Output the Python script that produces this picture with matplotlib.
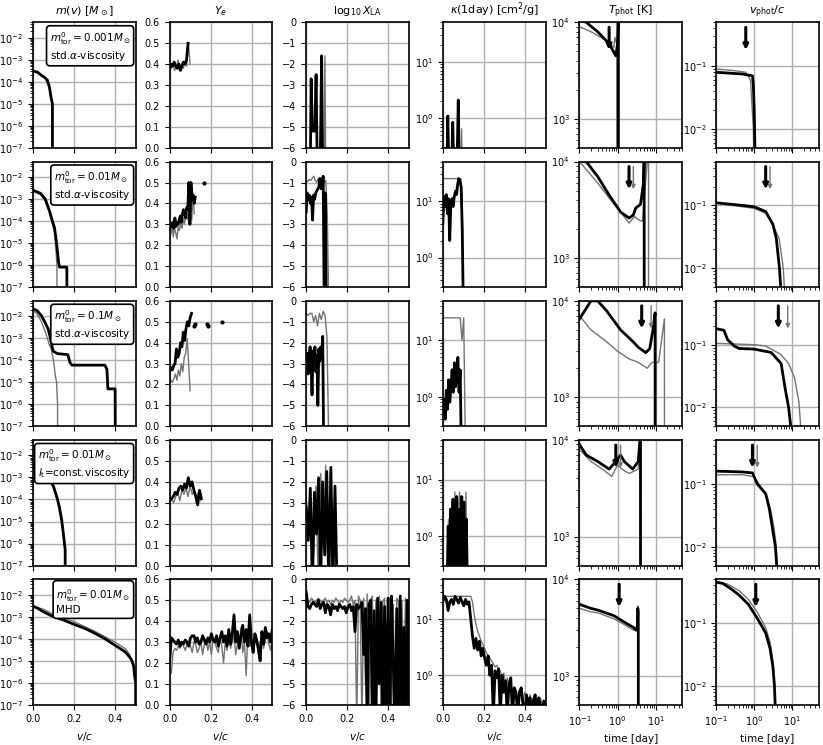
import numpy as np
import matplotlib
matplotlib.use("Agg")
import matplotlib.pyplot as plt

# ---------------- data (black = model, gray = comparison) ----------------
LOW = 1e-12   # floor for log panels (drop to bottom)
LX = -7.0     # floor for log10 X_LA panels

row_labels = [
    "$m^0_{\\rm tor}=0.001M_\\odot$\nstd.$\\alpha$-viscosity",
    "$m^0_{\\rm tor}=0.01M_\\odot$\nstd.$\\alpha$-viscosity",
    "$m^0_{\\rm tor}=0.1M_\\odot$\nstd.$\\alpha$-viscosity",
    "$m^0_{\\rm tor}=0.01M_\\odot$\n$l_{\\rm t}$=const.viscosity",
    "$m^0_{\\rm tor}=0.01M_\\odot$\nMHD",
]

# m(v)
m_v_k = [[0, 0.02, 0.04, 0.06, 0.07, 0.08, 0.088, 0.093, 0.095, 0.095],
         [0, 0.02, 0.037, 0.06, 0.08, 0.095, 0.105, 0.115, 0.125, 0.13, 0.165, 0.168],
         [0, 0.02, 0.04, 0.06, 0.075, 0.085, 0.095, 0.1, 0.12, 0.17, 0.18, 0.19, 0.35,
          0.36, 0.365, 0.4, 0.403],
         [0, 0.01, 0.03, 0.05, 0.07, 0.09, 0.1, 0.11, 0.12, 0.13, 0.14, 0.15, 0.157, 0.157],
         [0, 0.02, 0.05, 0.1, 0.15, 0.2, 0.25, 0.3, 0.35, 0.4, 0.45, 0.47, 0.48, 0.49, 0.495, 0.5, 0.5]]
m_y_k = [[3e-4, 2.8e-4, 2e-4, 1.5e-4, 1.2e-4, 6e-5, 2e-5, 1.2e-5, 1e-5, LOW],
         [2.5e-3, 2.1e-3, 1.8e-3, 1e-3, 3e-4, 1e-4, 5e-5, 1e-5, 1.3e-6, 8e-7, 8e-7, LOW],
         [2.2e-2, 1.8e-2, 1.1e-2, 5e-3, 2.5e-3, 1e-3, 3.5e-4, 2.5e-4, 2e-4, 1.8e-4,
          8e-5, 6e-5, 6e-5, 4e-5, 5e-6, 5e-6, LOW],
         [4e-3, 2.5e-3, 1.7e-3, 1.3e-3, 1e-3, 6e-4, 4e-4, 2e-4, 1e-4, 4e-5, 1.2e-5, 2e-6, 5e-7, LOW],
         [3e-3, 2.5e-3, 1.7e-3, 1e-3, 7e-4, 4.5e-4, 3e-4, 1.8e-4, 1e-4, 5e-5, 2.5e-5, 1.5e-5, 1.1e-5, 6e-6, 2e-6, 1e-6, LOW]]
m_v_g = [[0, 0.02, 0.04, 0.06, 0.08, 0.09, 0.093, 0.093],
         [0, 0.02, 0.04, 0.06, 0.08, 0.095, 0.105, 0.112, 0.117, 0.117],
         [0, 0.02, 0.04, 0.06, 0.08, 0.09, 0.1, 0.109, 0.115, 0.12, 0.12],
         [0, 0.03, 0.07, 0.1, 0.12, 0.14, 0.157, 0.157],
         [0, 0.05, 0.1, 0.2, 0.3, 0.4, 0.45, 0.47, 0.49, 0.5, 0.5]]
m_y_g = [[3e-4, 2.8e-4, 2e-4, 1.4e-4, 5e-5, 1.5e-5, 1e-5, LOW],
         [2.3e-3, 1.9e-3, 1.5e-3, 8e-4, 2.5e-4, 7e-5, 3e-5, 5e-6, 1e-6, LOW],
         [1.8e-2, 1.3e-2, 6e-3, 2e-3, 5e-4, 3e-4, 1e-4, 2e-5, 1e-5, 1e-6, LOW],
         [4e-3, 1.6e-3, 9e-4, 3.5e-4, 8e-5, 8e-6, 5e-7, LOW],
         [3e-3, 2.2e-3, 1.3e-3, 6e-4, 2.2e-4, 7e-5, 3.5e-5, 2e-5, 5e-6, 1e-6, LOW]]

# Y_e
ye_k = [[0.38, 0.40, 0.39, 0.41, 0.39, 0.38, 0.40, 0.37, 0.39, 0.41, 0.40, 0.42, 0.50],
        [0.28, 0.30, 0.29, 0.31, 0.28, 0.33, 0.29, 0.31, 0.30, 0.32, 0.34, 0.31, 0.35,
         0.37, 0.36, 0.33, 0.38, 0.37, 0.50, 0.30, 0.50, 0.42, 0.44, 0.40, 0.43],
        [0.26, 0.28, 0.27, 0.29, 0.30, 0.37, 0.33, 0.35, 0.40, 0.38, 0.45, 0.41, 0.47,
         0.50, 0.48, 0.52, 0.54],
        [0.31, 0.32, 0.33, 0.35, 0.34, 0.37, 0.38, 0.36, 0.39, 0.37, 0.42, 0.38, 0.40,
         0.36, 0.33, 0.29, 0.36, 0.32],
        [0.20, 0.32, 0.31, 0.30, 0.29, 0.31, 0.28, 0.30, 0.29, 0.31, 0.30, 0.28, 0.32,
         0.33, 0.33, 0.30, 0.32, 0.29, 0.30, 0.33, 0.31, 0.29, 0.32, 0.30, 0.34, 0.31,
         0.30, 0.33, 0.28, 0.32, 0.35, 0.30, 0.33, 0.28, 0.36, 0.29, 0.34, 0.43, 0.30,
         0.35, 0.27, 0.33, 0.38, 0.30, 0.36, 0.28, 0.43, 0.30, 0.25, 0.34, 0.31, 0.27,
         0.21, 0.35, 0.29, 0.37, 0.32, 0.34, 0.30, 0.36]]
ye_k_end = [0.09, 0.125, 0.107, 0.155, 0.5]
ye_g = [[0.41, 0.38, 0.40, 0.37, 0.39, 0.42, 0.37, 0.40, 0.38, 0.41, 0.39, 0.50, 0.40],
        [0.27, 0.25, 0.30, 0.24, 0.28, 0.26, 0.23, 0.29, 0.27, 0.31, 0.28, 0.33, 0.30,
         0.34, 0.35, 0.32, 0.36, 0.50, 0.32, 0.45, 0.35],
        [0.20, 0.22, 0.21, 0.23, 0.25, 0.22, 0.27, 0.24, 0.30, 0.26, 0.33, 0.35, 0.42,
         0.30, 0.17],
        [0.30, 0.32, 0.30, 0.33, 0.35, 0.31, 0.36, 0.34, 0.37, 0.33, 0.38, 0.34, 0.36,
         0.32, 0.35, 0.31],
        [0.20, 0.15, 0.25, 0.27, 0.26, 0.28, 0.27, 0.30, 0.28, 0.26, 0.29, 0.30, 0.28,
         0.25, 0.30, 0.29, 0.25, 0.27, 0.30, 0.24, 0.29, 0.31, 0.26, 0.30, 0.24, 0.31,
         0.30, 0.27, 0.25, 0.32, 0.28, 0.20, 0.30, 0.26, 0.35, 0.27, 0.30, 0.33, 0.24,
         0.29, 0.28, 0.37, 0.25, 0.30, 0.14, 0.36, 0.28, 0.30, 0.26, 0.33, 0.29, 0.24,
         0.30, 0.33, 0.27, 0.31, 0.35, 0.29, 0.26, 0.32]]
ye_g_end = [0.10, 0.12, 0.10, 0.15, 0.5]
ye_dots_v = [[], [0.168], [0.12, 0.125, 0.18, 0.185, 0.257], [], []]
ye_dots_y = [[], [0.50], [0.48, 0.49, 0.49, 0.48, 0.50], [], []]

# log10 X_LA
xla_v_k = [[0.02, 0.024, 0.03, 0.036, 0.042, 0.048, 0.054, 0.068, 0.075, 0.08],
           None, None, None, None]
xla_k = [[LX, -2.7, -5.2, -5.2, -5.2, -2.5, LX, LX, -1.6, LX],
         [-2.4, -1.5, -1.8, -1.6, -2.0, -1.7, -2.8, -1.6, -1.8, -1.5, -1.4, -1.3,
          -1.2, -0.8, -1.3, -1.2, -0.7, LX, -1.5, LX],
         [-3.2, -2.5, -3.5, -2.7, -2.2, -3.0, -4.5, -2.4, -2.8, -2.2, -3.4, -2.6,
          -5.0, -2.3, -2.9, -2.2, -2.8, -1.7, LX],
         [-3.2, -4.8, -2.3, LX, -2.5, -4.5, -1.8, LX, -2.0, -5.5, -1.5, LX, -1.3,
          LX, -2.2, LX],
         [-0.6, -1.3, -1.4, -1.2, -1.1, -1.2, -1.3, -1.0, -1.4, -1.2, -1.1, -1.6, -1.2,
          -1.3, -1.7, -1.2, -1.4, -1.3, -1.5, -1.2, -1.3, -1.4, -1.3, -1.6, -1.3, -1.2,
          -1.5, -1.3, -2.5, -1.2, -1.4, -1.3, -1.1, -3.6, -1.4, LX, -1.2, -1.0, LX,
          -1.5, LX, -0.9, -5.0, -1.1, LX, -1.3, LX, -0.9, LX, -0.8, -4.0, LX, -1.4,
          LX, -0.8, LX, -2.3, LX, -1.0, LX]]
xla_k_end = [None, 0.098, 0.085, 0.15, 0.5]
xla_v_g = [[0.087, 0.091, 0.095], None, None, None, None]
xla_g = [[LX, -1.6, LX],
         [-0.9, -0.95, -0.85, -0.9, -0.8, -0.7, -0.9, -1.0, -0.8, -1.2, -0.9, -0.8,
          -1.0, -0.9, -2.6, LX],
         [-0.6, -0.7, -0.6, -0.6, -1.0, -0.7, -1.2, -0.6, -0.9, -0.5, -0.7, -1.7, LX],
         [-2.8, -4.2, -2.9, -5.6, -2.2, LX, -1.6, -5.2, -1.2, LX, -1.5, LX],
         [-0.8, -1.0, -1.1, -0.9, -1.0, -1.1, -1.0, -0.9, -1.0, -1.1, -1.0, -0.9, -1.1,
          -1.0, -1.2, -1.0, -1.1, -0.9, -1.0, -1.2, -1.0, -1.1, -0.9, -1.0, -1.1, -1.0,
          -0.8, -1.2, -1.0, LX, -0.8, -1.0, LX, -0.9, -5.0, -0.7, LX, -1.0, -0.8, LX,
          -1.0, -3.5, -0.8, LX, -1.1, -0.9, LX, -1.0, -0.9, LX, -1.2, LX, -0.9, -1.1,
          LX, -1.0, -5.0, -0.9, LX, -1.0]]
xla_g_end = [None, 0.11, 0.11, 0.13, 0.5]

# kappa(1 day)
kap_v_k = [[0.02, 0.024, 0.03, 0.036, 0.042, 0.048, 0.054, 0.068, 0.075, 0.08],
           None, None, [0.02, 0.12], None]
kap_k = [[0.1, 1.1, 0.1, 0.1, 0.1, 0.85, 0.1, 0.1, 2.1, 0.1],
         [4, 12, 8, 13, 6, 11, 2, 9, 11, 8, 12, 15, 13, 20, 25, 22, 18, 3, 0.1],
         [0.5, 0.9, 0.4, 1.3, 0.6, 2.0, 0.8, 1.5, 3.0, 1.2, 4.0, 1.5, 2.5, 5.0, 1.2,
          3.0, 0.1],
         [0.1, 1.5, 0.1, 3.0, 0.2, 4.5, 0.1, 2.0, 5.0, 0.1, 3.0, 0.1, 5.0, 0.2, 4.0,
          0.1, 2.0, 0.1],
         [20, 25, 22, 14, 20, 22, 18, 25, 22, 19, 24, 20, 17, 22, 18, 20, 10, 5, 3,
          4.5, 2.8, 4, 2.2, 3, 2, 1.5, 2.2, 1.0, 1.5, 0.2, 1.2, 0.9, 1.3, 0.2, 1.0,
          0.5, 0.8, 0.2, 0.7, 0.9, 0.2, 0.6, 0.5, 0.2, 0.5, 0.6, 0.3, 0.2, 0.45, 0.3,
          0.4, 0.2, 0.35, 0.45, 0.2, 0.4, 0.3, 0.2, 0.35, 0.2]]
kap_k_end = [None, 0.1, 0.09, None, 0.5]
kap_v_g = [[0.087, 0.091, 0.095], None, None, [0.02, 0.12], None]
kap_g = [[0.1, 0.65, 0.1],
         [25, 25, 25, 25, 25, 25, 25, 25, 25, 25, 25, 25, 25, 25, 22, 25, 12, 0.1],
         [25, 25, 25, 25, 25, 25, 25, 25, 25, 25, 25, 10, 25, 0.1],
         [0.1, 2.0, 0.1, 4.0, 0.1, 6.0, 0.2, 3.0, 6.0, 0.1, 5.0, 0.1, 6.0, 0.1],
         [25, 25, 25, 25, 25, 25, 25, 25, 25, 25, 25, 25, 25, 25, 25, 25, 25, 20, 12,
          8, 6, 5, 4, 3.5, 3, 2.5, 2.2, 2, 1.8, 1.6, 1.4, 1.5, 1.3, 1.2, 0.8, 1.1,
          0.6, 0.9, 0.5, 0.7, 0.45, 0.6, 0.5, 0.3, 0.55, 0.45, 0.35, 0.5, 0.4, 0.3,
          0.45, 0.35, 0.4, 0.3, 0.35, 0.3, 0.4, 0.3, 0.35, 0.3]]
kap_g_end = [None, 0.1, 0.11, None, 0.5]

# T_phot vs time [day]
T_t_k = [[0.15, 0.3, 0.6, 0.9, 1.0, 1.05, 1.06],
         [0.15, 0.3, 0.6, 1.2, 2.0, 2.6, 3.0, 4.0, 4.8, 5.0, 5.1],
         [0.1, 0.14, 0.2, 0.3, 0.5, 1.2, 2.5, 3.5, 5.5, 7.0, 8.5, 9.7, 9.8],
         [0.1, 0.15, 0.3, 0.6, 0.9, 1.2, 1.5, 2.5, 3.5, 4.0, 4.1],
         [0.1, 0.2, 0.3, 0.8, 1.5, 2.5, 3.1, 3.3, 3.4, 3.5, 3.6]]
T_k = [[1.0e4, 8e3, 6e3, 4.5e3, 6e3, 2e4, LOW],
       [1.0e4, 7e3, 4.5e3, 3.0e3, 2.6e3, 2.8e3, 3.3e3, 3.6e3, 6e3, 1.2e4, LOW],
       [6.5e3, 8e3, 1.0e4, 1.0e4, 8e3, 5e3, 3.8e3, 3.3e3, 2.9e3, 3.2e3, 5e3, 7.5e3, LOW],
       [9e3, 7e3, 6e3, 5e3, 6e3, 7e3, 6e3, 5e3, 6e3, 1.2e4, LOW],
       [5.5e3, 5e3, 4.8e3, 4.2e3, 3.6e3, 3.2e3, 3.0e3, 3.2e3, 5e3, 4.5e3, LOW]]
T_t_g = [[0.1, 0.2, 0.5, 0.8, 0.85, 0.95, 0.96],
         [0.1, 0.3, 0.6, 1.2, 2.0, 2.8, 3.5, 4.5, 6.5, 6.6],
         [0.1, 0.2, 0.5, 1.0, 2.0, 3.5, 6.0, 8.0, 12.0, 17.0, 18.0],
         [0.1, 0.2, 0.4, 0.7, 1.0, 1.3, 2.0, 3.5, 4.0, 4.1],
         [0.1, 0.2, 0.3, 0.8, 1.5, 2.5, 3.1, 3.3, 3.4, 3.5]]
T_g = [[9e3, 8e3, 6.5e3, 5.5e3, 7e3, 6e3, LOW],
       [1.0e4, 6e3, 4.2e3, 3.0e3, 2.3e3, 2.7e3, 2.5e3, 2.4e3, 1.5e4, LOW],
       [7e3, 5e3, 3.8e3, 3.0e3, 2.5e3, 2.3e3, 2.0e3, 2.3e3, 2.3e3, 6.5e3, LOW],
       [8e3, 6e3, 5e3, 4.2e3, 5.5e3, 5e3, 4.5e3, 5e3, 1.2e4, LOW],
       [5e3, 4.6e3, 4.5e3, 3.9e3, 3.4e3, 3.0e3, 2.9e3, 3.0e3, 5.3e3, LOW]]

# v_phot / c vs time [day]
v_t_k = [[0.1, 0.5, 0.9, 0.95, 1.0, 1.05],
         [0.1, 0.5, 1.0, 2.0, 3.1, 3.8, 4.6, 5.1],
         [0.1, 0.16, 0.2, 0.3, 0.4, 1.0, 2.8, 5.1, 6.5, 8.0, 9.5],
         [0.1, 0.5, 0.9, 1.2, 2.0, 2.5, 3.0, 3.6, 4.0],
         [0.1, 0.15, 0.25, 0.4, 0.7, 1.2, 2.0, 2.6, 3.1, 3.4, 3.6]]
v_k = [[0.08, 0.075, 0.07, 0.05, 0.02, 0.004],
       [0.11, 0.10, 0.095, 0.08, 0.05, 0.03, 0.01, 0.004],
       [0.18, 0.17, 0.12, 0.095, 0.087, 0.085, 0.075, 0.05, 0.02, 0.01, 0.004],
       [0.16, 0.155, 0.15, 0.10, 0.07, 0.04, 0.02, 0.01, 0.004],
       [0.45, 0.43, 0.35, 0.28, 0.20, 0.12, 0.07, 0.04, 0.02, 0.01, 0.004]]
v_t_g = [[0.1, 0.3, 0.6, 0.8, 0.95, 0.97],
         [0.1, 0.5, 1.0, 2.0, 3.0, 4.5, 5.8, 6.3],
         [0.1, 1.0, 2.0, 5.0, 8.0, 11.4, 15.0, 17.0],
         [0.1, 0.5, 1.0, 1.5, 2.2, 2.8, 3.3, 3.8, 4.0],
         [0.1, 0.2, 0.4, 0.7, 1.2, 2.0, 2.6, 3.1, 3.4, 3.6]]
v_g = [[0.09, 0.085, 0.08, 0.06, 0.01, 0.004],
       [0.11, 0.095, 0.09, 0.075, 0.05, 0.03, 0.01, 0.004],
       [0.105, 0.10, 0.095, 0.07, 0.05, 0.03, 0.012, 0.004],
       [0.14, 0.14, 0.13, 0.09, 0.06, 0.035, 0.02, 0.01, 0.004],
       [0.46, 0.42, 0.33, 0.24, 0.15, 0.085, 0.05, 0.025, 0.012, 0.004]]

# arrow times (black, gray)
arrow_k = [0.6, 2.0, 4.3, 0.9, 1.1]
arrow_g = [None, 2.6, 7.6, 1.2, None]

titles = ["$m(v)$ $[M_\\odot]$", "$Y_e$", "$\\log_{10}X_{\\rm LA}$",
          "$\\kappa$(1day) [cm$^2$/g]", "$T_{\\rm phot}$ [K]", "$v_{\\rm phot}/c$"]

# ---------------- plotting ----------------
plt.rcParams.update({"font.size": 7, "axes.linewidth": 1.2})
GRAY = "0.45"

fig, axes = plt.subplots(5, 6, figsize=(8.23, 7.45), dpi=100)
fig.subplots_adjust(left=0.040, right=0.995, top=0.970, bottom=0.054,
                    wspace=0.33, hspace=0.11)


def grid_x(vals, start, end):
    return np.linspace(start, end, len(vals))


def pick_x(given, vals, end):
    if given is None:
        return grid_x(vals, 0.0, end)
    if len(given) == 2 and len(vals) != 2:
        return grid_x(vals, given[0], given[1])
    return given


def arrow(ax, t, color, lw, ms):
    ax.annotate("", xy=(t, 0.78), xytext=(t, 0.96),
                xycoords=("data", "axes fraction"),
                arrowprops=dict(arrowstyle="-|>", color=color, lw=lw,
                                mutation_scale=ms, shrinkA=0, shrinkB=0))


for r in range(5):
    ax = axes[r]
    # m(v)
    ax[0].plot(m_v_g[r], m_y_g[r], color=GRAY, lw=1)
    ax[0].plot(m_v_k[r], m_y_k[r], color="k", lw=2)
    ax[0].set_yscale("log")
    ax[0].set_ylim(1e-7, 5e-2)
    ax[0].text(0.95, 0.94, row_labels[r], transform=ax[0].transAxes,
               ha="right", va="top", multialignment="left", fontsize=7.5,
               bbox=dict(boxstyle="round,pad=0.3", fc="white", ec="k", lw=1.2))

    # Ye
    ax[1].plot(grid_x(ye_g[r], 0.0, ye_g_end[r]), ye_g[r], color=GRAY, lw=1)
    ax[1].plot(grid_x(ye_k[r], 0.0, ye_k_end[r]), ye_k[r], color="k", lw=2)
    if ye_dots_v[r]:
        ax[1].plot(ye_dots_v[r], ye_dots_y[r], "k.", ms=4)
    ax[1].set_ylim(0, 0.6)

    # X_LA
    ax[2].plot(pick_x(xla_v_g[r], xla_g[r], xla_g_end[r]), xla_g[r], color=GRAY, lw=1)
    ax[2].plot(pick_x(xla_v_k[r], xla_k[r], xla_k_end[r]), xla_k[r], color="k", lw=2)
    ax[2].set_ylim(-6, 0)

    # kappa
    ax[3].plot(pick_x(kap_v_g[r], kap_g[r], kap_g_end[r]), kap_g[r], color=GRAY, lw=1)
    ax[3].plot(pick_x(kap_v_k[r], kap_k[r], kap_k_end[r]), kap_k[r], color="k", lw=2)
    ax[3].set_yscale("log")
    ax[3].set_ylim(0.3, 50)

    for c in range(4):
        ax[c].set_xlim(0, 0.5)
        ax[c].set_xticks([0, 0.2, 0.4])

    # T_phot
    ax[4].plot(T_t_g[r], T_g[r], color=GRAY, lw=1)
    ax[4].plot(T_t_k[r], T_k[r], color="k", lw=2)
    ax[4].set_yscale("log")
    ax[4].set_ylim(500, 1e4)

    # v_phot
    ax[5].plot(v_t_g[r], v_g[r], color=GRAY, lw=1)
    ax[5].plot(v_t_k[r], v_k[r], color="k", lw=2)
    ax[5].set_yscale("log")
    ax[5].set_ylim(0.005, 0.5)

    for c in (4, 5):
        ax[c].set_xscale("log")
        ax[c].set_xlim(0.1, 50)
        arrow(ax[c], arrow_k[r], "k", 2.2, 7)
        if arrow_g[r] is not None:
            arrow(ax[c], arrow_g[r], GRAY, 1.0, 6)

    for c in range(6):
        ax[c].grid(True, color="#b0b0b0", lw=1)
        ax[c].set_axisbelow(True)
        ax[c].tick_params(labelsize=7)
        if r < 4:
            ax[c].tick_params(labelbottom=False)
        if r == 0:
            ax[c].set_title(titles[c], fontsize=8, pad=6)

for c in range(4):
    axes[4, c].set_xlabel("$v/c$", fontsize=7.5)
for c in (4, 5):
    axes[4, c].set_xlabel("time [day]", fontsize=7.5)

fig.savefig("out.png", dpi=100)
